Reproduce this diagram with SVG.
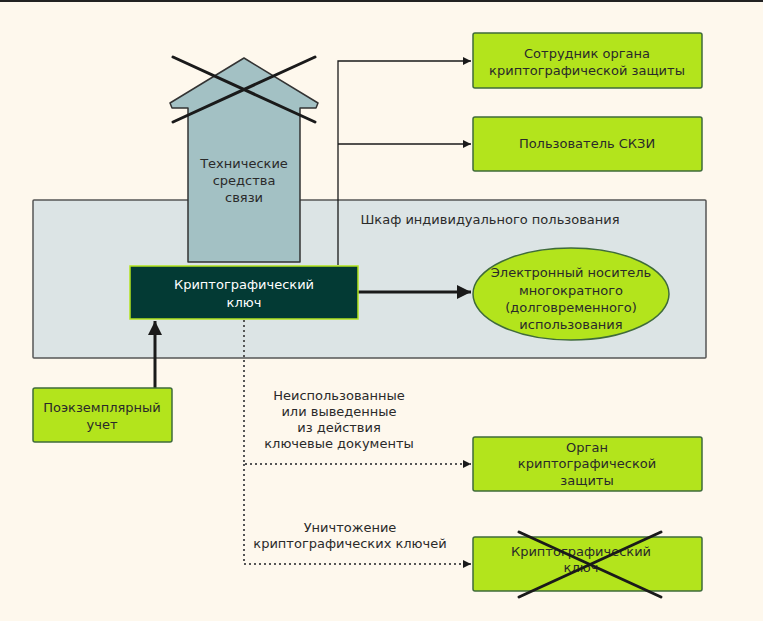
<svg xmlns="http://www.w3.org/2000/svg" width="763" height="621" viewBox="0 0 763 621">
<defs>
<style>
text{font-family:"DejaVu Sans","Noto Sans",sans-serif;font-size:13px;fill:#2a2a2a;text-anchor:middle}
.box{fill:#b3e41c;stroke:#3f6b3a;stroke-width:1.5}
.x{stroke:#1a1a1a;stroke-width:3;stroke-linecap:round}
.solid{fill:none;stroke:#1a1a1a;stroke-width:1.3}
.thick{fill:none;stroke:#1a1a1a;stroke-width:3}
.dot{fill:none;stroke:#555;stroke-width:2;stroke-dasharray:2 3}
</style>
<marker id="a" viewBox="0 0 10 10" refX="10" refY="5" markerWidth="8" markerHeight="8" markerUnits="userSpaceOnUse" orient="auto"><path d="M0,0L10,5L0,10z" fill="#1a1a1a"/></marker>
<marker id="ab" viewBox="0 0 10 10" refX="10" refY="5" markerWidth="14" markerHeight="14" markerUnits="userSpaceOnUse" orient="auto"><path d="M0,0L10,5L0,10z" fill="#1a1a1a"/></marker>
</defs>
<rect width="763" height="621" fill="#fef8ed"/>
<rect width="763" height="2" fill="#222"/>
<g id="container">
<rect x="33" y="200" width="673" height="158" fill="#dce4e5" stroke="#555" stroke-width="1.5" rx="1"/>
<text x="490" y="224">Шкаф индивидуального пользования</text>
</g>
<g id="connectors">
<polyline class="solid" points="338,265 338,61 471,61" marker-end="url(#a)"/>
<line class="solid" x1="338" y1="144" x2="471" y2="144" marker-end="url(#a)"/>
<line class="thick" x1="358" y1="292" x2="471" y2="292" marker-end="url(#ab)"/>
<line class="thick" x1="155" y1="388" x2="155" y2="321" marker-end="url(#ab)"/>
<polyline class="dot" points="244,320 244,464 471,464" marker-end="url(#a)"/>
<polyline class="dot" points="244,464 244,564 471,564" marker-end="url(#a)"/>
</g>
<g id="tech">
<polygon points="244,58 318,103 316,108 300,108 300,262 188,262 188,108 172,108 170,103" fill="#a3c1c4" stroke="#333" stroke-width="1.5" stroke-linejoin="round"/>
<text x="244" y="168">Технические</text>
<text x="244" y="185">средства</text>
<text x="244" y="202">связи</text>
<line class="x" x1="173" y1="57" x2="315" y2="122"/>
<line class="x" x1="173" y1="122" x2="315" y2="57"/>
</g>
<g id="key">
<rect x="130" y="266" width="228" height="53" fill="#033a34" stroke="#b3e41c" stroke-width="1.5"/>
<text x="244" y="289" style="fill:#fff">Криптографический</text>
<text x="244" y="307" style="fill:#fff">ключ</text>
</g>
<g id="media">
<ellipse cx="571" cy="294" rx="98" ry="46" fill="#b3e41c" stroke="#3f6b3a" stroke-width="1.5"/>
<text x="571" y="277">Электронный носитель</text>
<text x="571" y="295">многократного</text>
<text x="571" y="312">(долговременного)</text>
<text x="571" y="329">использования</text>
</g>
<g id="employee">
<rect class="box" x="473" y="33" width="229" height="55" rx="2"/>
<text x="587" y="58">Сотрудник органа</text>
<text x="587" y="75">криптографической защиты</text>
</g>
<g id="user">
<rect class="box" x="473" y="117" width="229" height="54" rx="2"/>
<text x="587" y="148">Пользователь СКЗИ</text>
</g>
<g id="accounting">
<rect class="box" x="33" y="388" width="139" height="54" rx="2"/>
<text x="102" y="412">Поэкземплярный</text>
<text x="102" y="429">учет</text>
</g>
<g id="label1">
<text x="339" y="400">Неиспользованные</text>
<text x="339" y="416">или выведенные</text>
<text x="339" y="432">из действия</text>
<text x="339" y="448">ключевые документы</text>
</g>
<g id="organ">
<rect class="box" x="473" y="437" width="229" height="54" rx="2"/>
<text x="587" y="452">Орган</text>
<text x="587" y="468">криптографической</text>
<text x="587" y="485">защиты</text>
</g>
<g id="label2">
<text x="350" y="532">Уничтожение</text>
<text x="350" y="548">криптографических ключей</text>
</g>
<g id="destroyed">
<rect class="box" x="473" y="537" width="229" height="54" rx="2"/>
<text x="581" y="556">Криптографический</text>
<text x="581" y="572">ключ</text>
<line class="x" x1="519" y1="532" x2="661" y2="597"/>
<line class="x" x1="519" y1="597" x2="661" y2="532"/>
</g>
</svg>
